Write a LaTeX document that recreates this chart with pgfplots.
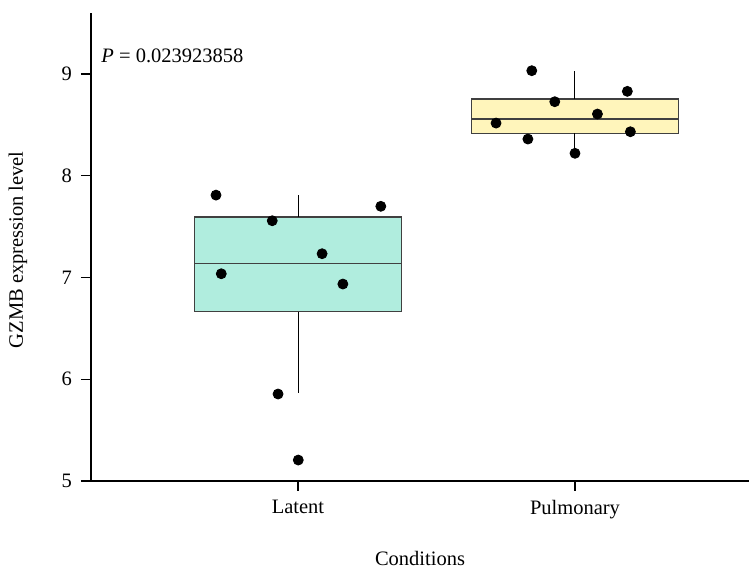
\documentclass[border=0pt]{standalone}
\usepackage{fontspec}
\setmainfont{Liberation Serif}
\usepackage{pgfplots}
\pgfplotsset{compat=1.18}
\definecolor{latentfill}{RGB}{176,237,222}
\definecolor{pulmfill}{RGB}{255,245,187}
\definecolor{boxedge}{RGB}{64,64,64}
\begin{document}
\fontsize{10.25}{12}\selectfont
\begin{tikzpicture}
\begin{axis}[
  scale only axis,
  width=329pt, height=234pt,
  xmin=0.2527, xmax=2.6282,
  ymin=5, ymax=9.6,
  axis x line=bottom, axis y line=left,
  axis line style={-, line width=0.6pt},
  xtick={1,2}, xticklabels={Latent,Pulmonary},
  ytick={5,6,7,8,9},
  tick style={line width=0.6pt, black},
  tick align=outside,
  major tick length=5pt,
  /pgf/number format/assume math mode=true,
  ticklabel style={font=\fontsize{10.25}{12}\selectfont},
  yticklabel style={xshift=-1pt},
  xticklabel style={yshift=-1pt},
  xlabel={Conditions},
  ylabel={GZMB expression level},
  xlabel style={at={(axis description cs:0.5,0)}, anchor=center, yshift=-38.5pt},
  every axis y label/.append style={at={(axis description cs:0,0.494)}, anchor=center, yshift=36.5pt},
  clip=false,
]
% Latent box (quartiles 6.664 / 7.595, median 7.136, whiskers 5.862 / 7.81)
\addplot[draw=boxedge, fill=latentfill, line width=0.6pt, line join=miter] coordinates {(0.625,6.664) (1.375,6.664) (1.375,7.595) (0.625,7.595) (0.625,6.664)} -- cycle;
\addplot[draw=boxedge, line width=0.6pt] coordinates {(0.625,7.136) (1.375,7.136)};
\addplot[draw=black, line width=0.5pt] coordinates {(1,7.595) (1,7.81)};
\addplot[draw=black, line width=0.5pt] coordinates {(1,6.664) (1,5.862)};
% Pulmonary box (quartiles 8.417 / 8.754, median 8.558, whiskers 8.221 / 9.03)
\addplot[draw=boxedge, fill=pulmfill, line width=0.6pt, line join=miter] coordinates {(1.625,8.417) (2.375,8.417) (2.375,8.754) (1.625,8.754) (1.625,8.417)} -- cycle;
\addplot[draw=boxedge, line width=0.6pt] coordinates {(1.625,8.558) (2.375,8.558)};
\addplot[draw=black, line width=0.5pt] coordinates {(2,8.754) (2,9.03)};
\addplot[draw=black, line width=0.5pt] coordinates {(2,8.417) (2,8.221)};
% points
\addplot[only marks, mark=*, mark size=2.5pt, black] coordinates {
  (0.704,7.810) (0.907,7.558) (1.299,7.700) (1.087,7.234)
  (0.723,7.037) (1.162,6.936) (0.928,5.855) (1.001,5.206)
};
\addplot[only marks, mark=*, mark size=2.5pt, black] coordinates {
  (1.844,9.033) (1.927,8.728) (2.189,8.830) (2.081,8.607)
  (1.715,8.518) (2.200,8.433) (1.830,8.361) (2.000,8.221)
};
\node[anchor=west, inner sep=0pt] at (axis cs:0.289,9.177) {\textit{P} = 0.023923858};
\end{axis}
\pgfresetboundingbox
\path (-45.5pt,-45.5pt) rectangle (329pt,240.5pt);
\end{tikzpicture}
\end{document}
